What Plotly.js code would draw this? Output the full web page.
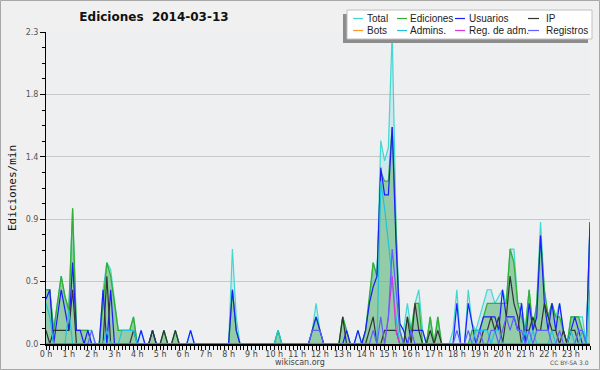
<!DOCTYPE html>
<html>
<head>
<meta charset="utf-8">
<script src="https://cdn.plot.ly/plotly-3.0.1.min.js"></script>
<style>
html,body{margin:0;padding:0;background:#f0f0f0;}
#chart{width:600px;height:370px;}
</style>
</head>
<body>
<div id="chart"></div>
<script>
// 10-minute slots, 0..143 (00:00 .. 23:50), values in edits/min
const hourLabels = ["0 h","1 h","2 h","3 h","4 h","5 h","6 h","7 h","8 h","9 h","10 h","11 h",
  "12 h","13 h","14 h","15 h","16 h","17 h","18 h","19 h","20 h","21 h","22 h","23 h"];
const yTickVals = [0, 0.46, 0.92, 1.38, 1.84, 2.3];
const yTickText = ["0.0", "0.5", "0.9", "1.4", "1.8", "2.3"];

const total = [
 .4,.4,.1,.3,.5,.35, .25,1.0,.1,.1,.1,.1,
 .1,0,0,.4,.6,.55, .3,.1,.1,.1,.1,.2,
 0,.1,0,0,.1,0, 0,.1,0,0,.1,0,
 0,0,.1,0,0,0, 0,0,0,0,0,0,
 0,.7,.2,0,0,0, 0,0,0,0,0,0,
 0,.1,0,0,0,0, 0,0,0,0,.1,.3,
 .1,0,0,0,0,0, .2,.1,0,0,.1,0,
 .1,.3,.6,.5,1.5,1.35, 1.45,2.3,.9,.15,.1,.3,
 .1,.3,.4,.1,0,.2, 0,.2,0,0,0,.1,
 .4,0,0,.4,.15,.1, .2,.3,.4,.4,.3,.35,
 .4,.3,.7,.7,.3,.3, .1,.4,.1,.3,.9,.4,
 .2,.3,.2,.3,.1,0, .2,.2,.2,.2,0,.9];

const ediciones = [
 .4,.4,.1,.3,.5,.35, .25,1.0,.1,.1,.1,.1,
 0,0,0,.3,.6,.5, .3,.1,.1,.1,.1,.2,
 0,0,0,0,.1,0, 0,.1,0,0,.1,0,
 0,0,0,0,0,0, 0,0,0,0,0,0,
 0,.4,.1,0,0,0, 0,0,0,0,0,0,
 0,.1,0,0,0,0, 0,0,0,0,.1,.2,
 .1,0,0,0,0,0, .2,.1,0,0,0,0,
 .1,.35,.6,.5,1.27,1.2, 1.2,1.6,.8,.1,0,.2,
 .1,.3,.3,0,0,.2, 0,.2,0,0,0,0,
 0,0,0,0,.1,.1, .1,.2,.3,.3,.3,.3,
 .3,.3,.7,.6,.3,.2, .1,.4,.1,.3,.8,.4,
 .2,.3,.2,.2,.1,0, .2,.2,.2,.1,0,.85];

const usuarios = [
 .33,.4,0,.2,.4,.25, .1,.6,.1,.1,0,.1,
 0,0,0,.4,0,.4, 0,0,0,0,0,0,
 0,.1,0,0,.1,0, 0,0,0,0,0,0,
 0,0,.1,0,0,0, 0,0,0,0,0,0,
 0,.4,.1,0,0,0, 0,0,0,0,0,0,
 0,0,0,0,0,0, 0,0,0,0,.1,.2,
 .1,0,0,0,0,0, 0,.1,0,0,.1,0,
 .1,.3,.42,.5,1.3,1.1, 1.1,1.6,.75,.15,.1,0,
 .1,.1,.1,.1,0,0, 0,0,0,0,0,0,
 .3,0,0,.3,.15,0, .1,.2,.2,.2,.2,.1,
 .4,.2,.2,.2,.1,.3, 0,.3,.1,.2,.8,.3,
 .1,.3,.1,.3,.1,0, .1,.2,.1,0,0,.9];

const ip = [
 .1,0,.1,.1,.1,.1, .1,.4,0,0,0,0,
 0,0,0,0,.5,0, 0,0,0,0,0,.1,
 0,0,0,0,.1,0, 0,.1,0,0,.1,0,
 0,0,0,0,0,0, 0,0,0,0,0,0,
 0,0,0,0,0,0, 0,0,0,0,0,0,
 0,0,0,0,0,0, 0,0,0,0,0,0,
 0,0,0,0,0,0, .2,0,0,0,0,0,
 0,.1,.2,0,0,.1, .1,.1,.1,0,0,.2,
 0,.3,.1,0,0,.1, 0,.1,0,0,0,0,
 0,0,0,0,0,0, 0,.1,.1,.2,.1,.2,
 0,.2,.5,.3,.2,0, .1,.1,.2,.1,.1,.3,
 .2,.1,.1,0,.1,0, .1,.1,0,0,0,0];

const bots = [
 0,0,0,0,0,0, 0,0,0,0,0,0,
 0,0,0,0,0,0, 0,0,0,0,0,0,
 0,0,0,0,0,0, 0,0,0,0,0,0,
 0,0,0,0,0,0, 0,0,0,0,0,0,
 0,0,0,0,0,0, 0,0,0,0,0,0,
 0,0,0,0,0,0, 0,0,0,0,0,0,
 0,0,0,0,0,0, 0,0,0,0,0,0,
 0,0,0,0,0,0, 0,0,0,0,0,0,
 0,0,0,0,0,0, 0,0,0,0,0,0,
 0,0,0,0,0,0, 0,0,0,0,0,0,
 0,0,0,0,0,0, 0,0,0,0,0,0,
 0,0,0,0,0,0, 0,0,0,0,0,0];

const admins = [
 .3,.2,0,0,0,0, .25,0,0,0,0,0,
 0,0,0,0,.1,0, 0,0,.1,.1,.1,.1,
 0,0,0,0,0,0, 0,0,0,0,0,0,
 0,0,0,0,0,0, 0,0,0,0,0,0,
 0,0,0,0,0,0, 0,0,0,0,0,0,
 0,.1,0,0,0,0, 0,0,0,0,0,0,
 0,0,0,0,0,0, 0,0,0,0,0,0,
 0,0,0,0,1.2,1.0, .75,.5,.2,0,0,0,
 0,0,0,0,0,0, 0,0,0,0,0,0,
 0,0,0,0,0,.1, .1,.1,.1,0,.1,.1,
 0,0,0,0,0,0, .1,0,.1,0,0,0,
 0,.1,0,0,0,0, .1,0,0,.1,0,.4];

const regAdm = [
 0,0,0,0,0,0, 0,0,0,0,0,0,
 0,0,0,0,0,0, 0,0,0,0,0,0,
 0,0,0,0,0,0, 0,0,0,0,0,0,
 0,0,0,0,0,0, 0,0,0,0,0,0,
 0,0,0,0,0,0, 0,0,0,0,0,0,
 0,0,0,0,0,0, 0,0,0,0,0,0,
 0,0,0,0,0,0, 0,0,0,0,0,0,
 0,0,0,0,0,0, .2,.5,.1,0,0,0,
 0,0,0,0,0,0, 0,0,0,0,0,0,
 0,0,0,0,0,0, 0,0,0,0,0,0,
 0,0,0,0,0,0, 0,0,0,0,0,0,
 0,0,0,0,0,0, 0,0,0,0,0,0];

const registros = [
 0,0,0,0,0,0, 0,0,0,0,0,0,
 .1,0,0,0,0,0, 0,0,0,0,0,0,
 0,0,0,0,0,0, 0,0,0,0,0,0,
 0,0,0,0,0,0, 0,0,0,0,0,0,
 0,0,0,0,0,0, 0,0,0,0,0,0,
 0,0,0,0,0,0, 0,0,0,0,.1,.1,
 .1,0,0,0,0,0, 0,0,0,0,0,0,
 0,0,.1,0,.2,0, .2,.7,.4,.1,0,0,
 .1,0,0,0,0,0, 0,0,0,0,0,0,
 .1,0,0,.1,0,0, .1,0,0,.1,.1,0,
 .1,.2,.1,.2,.1,.1, 0,.1,0,.1,.1,.1,
 .1,0,0,.1,0,0, 0,0,.1,.1,0,0];

const slots = total.map((_, i) => i);
const hourTicks = hourLabels.map((_, h) => h * 6);

const seriesNames = ["Total","Ediciones","Usuarios","IP","Bots","Admins.","Reg. de adm.","Registros"];
const seriesColors = ["#40d8d0","#33b033","#1c1cff","#333333","#ff9a2a","#22c2dc","#dd33dd","#6060ff"];
const seriesData = [total, ediciones, usuarios, ip, bots, admins, regAdm, registros];

const traces = seriesData.map((d, k) => {
  const t = {
    type: "scatter", mode: "lines", x: slots, y: d, name: seriesNames[k],
    line: {color: seriesColors[k], width: 1.2}, showlegend: false, hoverinfo: "skip"
  };
  if (k === 0) { t.fill = "tozeroy"; t.fillcolor = "rgba(150,215,232,0.35)"; }
  if (k === 1) { t.fill = "tozeroy"; t.fillcolor = "rgba(60,165,60,0.40)"; t.line.width = 1.3; }
  return t;
});

// layout helpers (pixel -> paper), plot area 46..590 x 32..344
const L = 46, T = 32, W = 544, H = 312;
const px = p => (p - L) / W;
const py = p => (T + H - p) / H;

const shapes = [
  {type:"rect", xref:"paper", yref:"paper", x0:px(0.5), x1:px(599.5), y0:py(369.5), y1:py(0.5),
   line:{color:"#a8a8a8", width:1}, fillcolor:"rgba(0,0,0,0)", layer:"below"},
  {type:"rect", xref:"paper", yref:"paper", x0:px(343), x1:px(588), y0:py(43), y1:py(14),
   line:{width:0}, fillcolor:"#8c8c8c"},
  {type:"rect", xref:"paper", yref:"paper", x0:px(347), x1:px(592), y0:py(39), y1:py(10),
   line:{color:"#c0c0c0", width:1}, fillcolor:"#ffffff"}
];
const annotations = [];
const colX = [[353,363,366],[397,407,409],[455,465,468],[528,539,545]];
const rowY = [18.5, 30.5];
seriesNames.forEach((n, k) => {
  const c = colX[k % 4], r = rowY[Math.floor(k / 4)];
  shapes.push({type:"line", xref:"paper", yref:"paper", x0:px(c[0]), x1:px(c[1]), y0:py(r), y1:py(r),
    line:{color:seriesColors[k], width:1.2}});
  annotations.push({xref:"paper", yref:"paper", x:px(c[2]), y:py(r), xanchor:"left", yanchor:"middle",
    text:n, showarrow:false, borderpad:0, font:{family:"Liberation Sans", size:10, color:"#222"}});
});
annotations.push({xref:"paper", yref:"paper", x:px(300), y:py(362), xanchor:"center", yanchor:"middle",
  text:"wikiscan.org", showarrow:false, borderpad:0, font:{family:"DejaVu Sans", size:8, color:"#444"}});
annotations.push({xref:"paper", yref:"paper", x:px(590), y:py(362), xanchor:"right", yanchor:"middle",
  text:"CC BY-SA 3.0", showarrow:false, borderpad:0, font:{family:"DejaVu Sans", size:6, color:"#555"}});

const layout = {
  width: 600, height: 370,
  margin: {l: L, r: 600 - L - W, t: T, b: 370 - T - H, pad: 0},
  paper_bgcolor: "#f0f0f0", plot_bgcolor: "#edeff1",
  font: {family: "DejaVu Sans", size: 9, color: "#444"},
  title: {text: "Ediciones\u00a0\u00a02014-03-13", x: px(154), xref: "paper", xanchor: "center",
          y: 1 - 17/370, yanchor: "middle", font: {family: "DejaVu Sans", size: 12, weight: "bold", color: "#111"}},
  showlegend: false,
  xaxis: {
    range: [0, 143], fixedrange: true, showgrid: false, zeroline: false,
    showline: true, linecolor: "#000", linewidth: 2,
    tickmode: "array", tickvals: hourTicks, ticktext: hourLabels,
    ticks: "outside", ticklen: 4, tickcolor: "#000", tickwidth: 1,
    ticklabelstandoff: -3,
    tickfont: {family: "DejaVu Sans", size: 8, color: "#444"},
    minor: {dtick: 1, tick0: 0, ticks: "outside", ticklen: 4, tickcolor: "#000", tickwidth: 1, showgrid: false}
  },
  yaxis: {
    range: [0, 2.3], fixedrange: true, showgrid: true, gridcolor: "#c8c8c8", gridwidth: 1, zeroline: false,
    showline: true, linecolor: "#000", linewidth: 1,
    tickmode: "array", tickvals: yTickVals, ticktext: yTickText,
    ticks: "outside", ticklen: 5, tickcolor: "#000",
    tickfont: {family: "DejaVu Sans", size: 8, color: "#555"},
    minor: {dtick: 0.115, tick0: 0, ticks: "outside", ticklen: 3, tickcolor: "#000", showgrid: false},
    title: {text: "Ediciones/min", standoff: 6, font: {family: "DejaVu Sans Mono", size: 11, color: "#111"}}
  },
  shapes: shapes,
  annotations: annotations
};

Plotly.newPlot("chart", traces, layout, {displayModeBar: false, staticPlot: true});
</script>
</body>
</html>
